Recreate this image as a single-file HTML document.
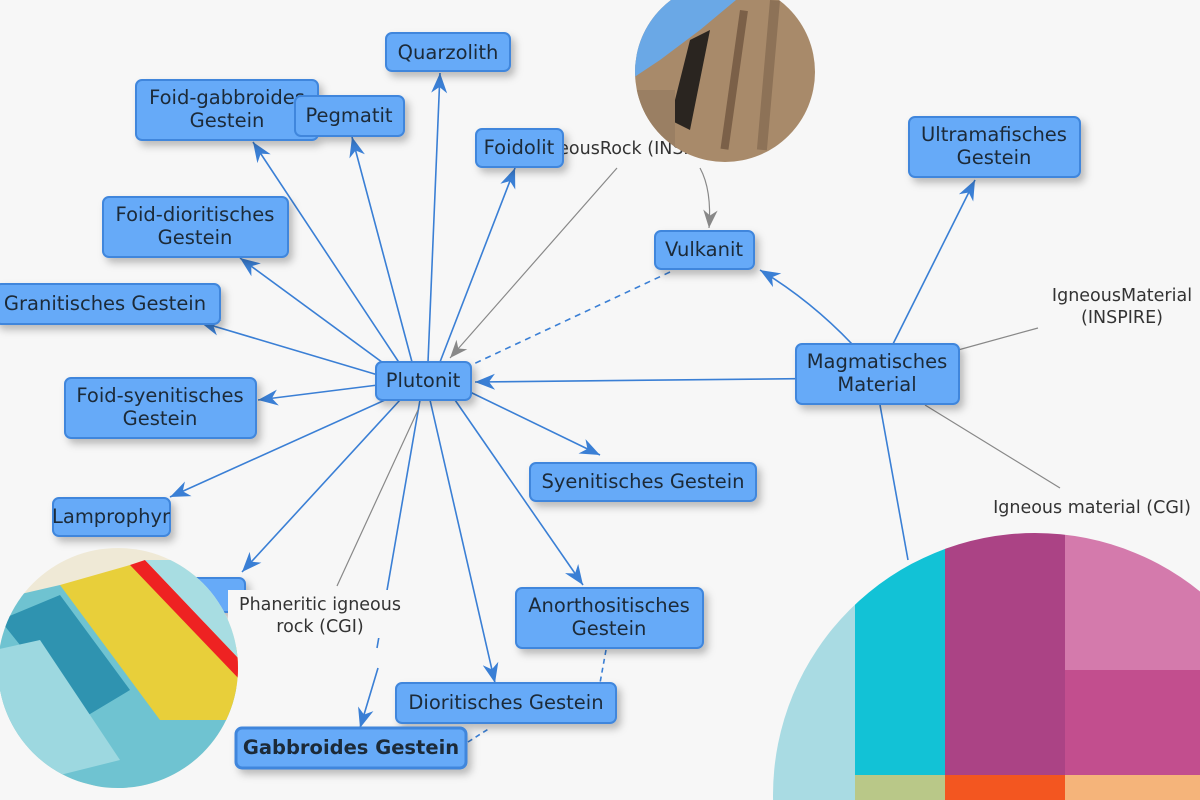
<!DOCTYPE html>
<html><head><meta charset="utf-8"><style>
html,body{margin:0;padding:0;background:#f7f7f7;}
svg{display:block}
.n rect{fill:#66aaf8;stroke:#3f86dc;stroke-width:2;}
.n text{font-family:"DejaVu Sans","Liberation Sans",sans-serif;font-size:19.5px;fill:#1d2a38;text-anchor:middle;}
.lbl{font-family:"DejaVu Sans","Liberation Sans",sans-serif;font-size:17.5px;fill:#333;text-anchor:middle;}
.e{stroke:#3a7fd5;stroke-width:1.6;fill:none;}
.g{stroke:#888;stroke-width:1.2;fill:none;}
</style></head><body>
<svg width="1200" height="800" viewBox="0 0 1200 800" xmlns="http://www.w3.org/2000/svg">
<rect width="1200" height="800" fill="#f7f7f7"/>
<defs>
<marker id="ab" viewBox="0 0 10 10" refX="10" refY="5" markerWidth="20" markerHeight="20" markerUnits="userSpaceOnUse" orient="auto"><path d="M0,1 L10,5 L0,9 L3,5 z" fill="#3a7fd5"/></marker>
<marker id="ag" viewBox="0 0 10 10" refX="10" refY="5" markerWidth="18" markerHeight="18" markerUnits="userSpaceOnUse" orient="auto"><path d="M0,1 L10,5 L0,9 L3,5 z" fill="#888"/></marker>
<filter id="sh" x="-20%" y="-20%" width="150%" height="160%"><feDropShadow dx="4" dy="5" stdDeviation="4" flood-color="#000" flood-opacity="0.25"/></filter>
</defs>

<g class="e" marker-end="url(#ab)">
<line x1="428" y1="362" x2="440" y2="73"/>
<line x1="412" y1="362" x2="352" y2="137"/>
<line x1="400" y1="364" x2="253" y2="142"/>
<line x1="440" y1="362" x2="515" y2="168"/>
<line x1="390" y1="368" x2="240" y2="258"/>
<line x1="378" y1="375" x2="200" y2="322"/>
<line x1="378" y1="385" x2="258" y2="400"/>
<line x1="385" y1="400" x2="170" y2="497"/>
<line x1="400" y1="400" x2="242" y2="572"/>
<line x1="470" y1="392" x2="600" y2="455"/>
<line x1="455" y1="400" x2="583" y2="585"/>
<line x1="430" y1="400" x2="495" y2="683"/>
<line x1="958" y1="377" x2="475" y2="382"/>
<path d="M852,344 Q810,300 760,270"/>
<line x1="893" y1="344" x2="975" y2="180"/>
</g>
<line class="e" x1="420" y1="400" x2="377" y2="648" stroke-width="2.5"/>
<line class="e" x1="378" y1="668" x2="360" y2="728" stroke-width="2.5" marker-end="url(#ab)"/>
<line class="e" x1="880" y1="405" x2="908" y2="560"/>
<path class="e" d="M670,272 L465,368" stroke-dasharray="6,5"/>
<path class="e" d="M606,650 L600,683" stroke-dasharray="5,4"/>
<path class="e" d="M468,742 L490,728" stroke-dasharray="5,4"/>
<line class="g" x1="958" y1="350" x2="1038" y2="328"/>
<line class="g" x1="925" y1="405" x2="1060" y2="488"/>
<line class="g" x1="337" y1="586" x2="418" y2="410"/>
<line class="g" x1="617" y1="168" x2="450" y2="358" marker-end="url(#ag)"/>
<path class="g" d="M700,168 Q712,190 709,228" marker-end="url(#ag)"/>

<text class="lbl" x="630" y="154">IgneousRock (INSPIRE)</text>
<text class="lbl" x="1122" y="301">IgneousMaterial</text>
<text class="lbl" x="1122" y="323">(INSPIRE)</text>
<text class="lbl" x="1092" y="513">Igneous material (CGI)</text>

<g class="n" filter="url(#sh)">
<rect x="386" y="33" width="124" height="38" rx="6"/><text x="448" y="59">Quarzolith</text>
<rect x="136" y="80" width="182" height="60" rx="6"/><text x="227" y="104">Foid-gabbroides</text><text x="227" y="127">Gestein</text>
<rect x="295" y="96" width="109" height="40" rx="6"/><text x="349" y="122">Pegmatit</text>
<rect x="476" y="129" width="87" height="38" rx="6"/><text x="519" y="154">Foidolit</text>
<rect x="103" y="197" width="185" height="60" rx="6"/><text x="195" y="221">Foid-dioritisches</text><text x="195" y="244">Gestein</text>
<rect x="-5" y="284" width="225" height="40" rx="6"/><text x="105" y="310">Granitisches Gestein</text>
<rect x="65" y="378" width="191" height="60" rx="6"/><text x="160" y="402">Foid-syenitisches</text><text x="160" y="425">Gestein</text>
<rect x="376" y="362" width="95" height="38" rx="6"/><text x="423" y="387">Plutonit</text>
<rect x="53" y="498" width="117" height="38" rx="6"/><text x="111" y="523">Lamprophyr</text>
<rect x="185" y="578" width="60" height="34" rx="6"/>
<rect x="530" y="463" width="226" height="38" rx="6"/><text x="643" y="488">Syenitisches Gestein</text>
<rect x="516" y="588" width="187" height="60" rx="6"/><text x="609" y="612">Anorthositisches</text><text x="609" y="635">Gestein</text>
<rect x="396" y="683" width="220" height="40" rx="6"/><text x="506" y="709">Dioritisches Gestein</text>
<rect x="236" y="728" width="230" height="40" rx="6" style="stroke-width:3"/><text x="351" y="754" style="font-weight:bold">Gabbroides Gestein</text>
<rect x="655" y="231" width="99" height="38" rx="6"/><text x="704" y="256">Vulkanit</text>
<rect x="909" y="117" width="171" height="60" rx="6"/><text x="994" y="141">Ultramafisches</text><text x="994" y="164">Gestein</text>
<rect x="796" y="344" width="163" height="60" rx="6"/><text x="877" y="368">Magmatisches</text><text x="877" y="391">Material</text>
</g>
<rect x="228" y="590" width="185" height="48" fill="#f7f7f7"/>
<text class="lbl" x="320" y="610">Phaneritic igneous</text>
<text class="lbl" x="320" y="632">rock (CGI)</text>

<clipPath id="c1"><circle cx="725" cy="72" r="90"/></clipPath>
<g clip-path="url(#c1)">
<rect x="630" y="-20" width="200" height="190" fill="#a88a6a"/>
<polygon points="630,-20 760,-20 700,30 660,60 630,80" fill="#6aa8e6"/>
<polygon points="690,40 710,30 690,130 670,120" fill="#2a2520"/>
<rect x="740" y="10" width="8" height="140" fill="#7b6048" transform="rotate(8 740 10)"/>
<rect x="770" y="0" width="10" height="150" fill="#8d7257" transform="rotate(5 770 0)"/>
<rect x="635" y="90" width="40" height="80" fill="#9a7f63"/>
</g>
<clipPath id="c2"><circle cx="118" cy="668" r="120"/></clipPath>
<g clip-path="url(#c2)">
<rect x="-5" y="545" width="250" height="250" fill="#efe9d6"/>
<polygon points="-5,600 60,585 240,690 240,760 150,800 -5,760" fill="#6fc3d1"/>
<polygon points="60,585 130,565 240,650 240,720 160,720" fill="#e8cf3a"/>
<polygon points="0,620 60,595 130,690 80,720" fill="#2f93b0"/>
<polygon points="130,565 145,560 240,660 240,680" fill="#e22"/>
<polygon points="145,560 200,560 240,610 240,660" fill="#a8dde2"/>
<polygon points="-5,650 40,640 120,760 40,780 -5,760" fill="#9dd8e0"/>
</g>
<clipPath id="c3"><circle cx="1035" cy="795" r="262"/></clipPath>
<g clip-path="url(#c3)">
<rect x="760" y="530" width="95" height="270" fill="#a9dbe3"/>
<rect x="855" y="530" width="90" height="245" fill="#12c2d6"/>
<rect x="945" y="530" width="120" height="245" fill="#ab4385"/>
<rect x="1065" y="530" width="140" height="140" fill="#d47aac"/>
<rect x="1065" y="670" width="140" height="105" fill="#c24e8e"/>
<rect x="855" y="775" width="90" height="30" fill="#b9c888"/>
<rect x="945" y="775" width="120" height="30" fill="#f35620"/>
<rect x="1065" y="775" width="140" height="30" fill="#f5b47a"/>
</g>
</svg>
</body></html>
